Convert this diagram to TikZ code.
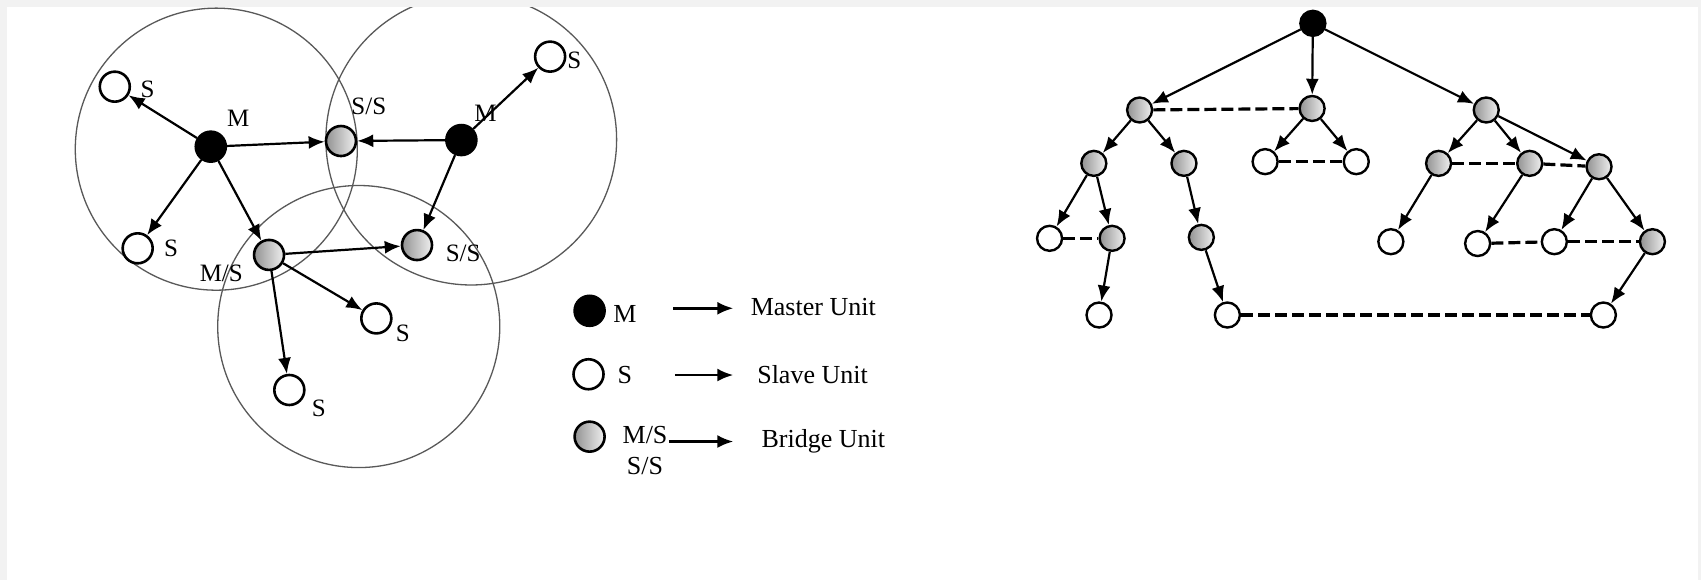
\documentclass[tikz,border=0pt]{standalone}
\usepackage{fontspec}
\setmainfont{Liberation Serif}
\usetikzlibrary{arrows.meta}
\begin{document}
\begin{tikzpicture}[x=0.5424pt,y=-0.5424pt,
  unit/.style={circle,draw=black,line width=1.3pt,minimum size=15pt,inner sep=0pt},
  mnode/.style={unit,fill=black},
  snode/.style={unit,fill=white},
  bnode/.style={unit,left color=gray!85,right color=gray!12},
  tunit/.style={circle,draw=black,line width=1.2pt,minimum size=12.5pt,inner sep=0pt},
  tm/.style={tunit,fill=black},
  ts/.style={tunit,fill=white},
  tb/.style={tunit,left color=gray!85,right color=gray!12},
  link/.style={line width=1.1pt,-{Latex[length=8pt,width=6.5pt]}},
  legarrow/.style={line width=1.3pt,-{Latex[length=8pt,width=6.5pt]}},
  dlink/.style={line width=1.6pt,dash pattern=on 6pt off 2.5pt},
  ring/.style={draw=black!65,line width=0.65pt},
  lbl/.style={font=\fontsize{12.5}{14}\selectfont,inner sep=0pt},
  leg/.style={font=\fontsize{13}{15}\selectfont,inner sep=0pt},
]
\useasboundingbox (0,0) rectangle (1568,535);
\fill[white] (0,0) rectangle (1568,535);

% ---- rings
\draw[ring] (199.4,137.5) circle[radius=130];
\draw[ring] (434.4,128.7) circle[radius=134];
\draw[ring] (330.7,301) circle[radius=130];

% ---- left network nodes
\node[mnode] (m1) at (194.3,135.2) {};
\node[mnode] (m2) at (425.3,129.1) {};
\node[bnode] (ss1) at (314.3,130) {};
\node[bnode] (ss2) at (384.4,225.9) {};
\node[bnode] (ms) at (248,235) {};
\node[snode] (sa) at (105.8,79.9) {};
\node[snode] (sb) at (126.9,228.9) {};
\node[snode] (sc) at (507.1,52.2) {};
\node[snode] (sd) at (346.9,293.5) {};
\node[snode] (se) at (266.7,359.5) {};

% ---- labels
\node[lbl] (lm1) at (219.5,109) {M};
\node[lbl] (lm2) at (447.5,104) {M};
\node[lbl] (lss1) at (340,98) {S/S};
\node[lbl] (lss2) at (427,233.5) {S/S};
\node[lbl] (lms) at (204,252) {M/S};
\node[lbl] (lsa) at (136,82) {S};
\node[lbl] (lsb) at (157.6,228.9) {S};
\node[lbl] (lsc) at (529.3,56) {S};
\node[lbl] (lsd) at (371.4,307.3) {S};
\node[lbl] (lse) at (294,376.4) {S};

% ---- left edges
\draw[link] (m1) -- (sa);
\draw[link] (m1) -- (ss1);
\draw[link] (m1) -- (sb);
\draw[link] (m1) -- (ms);
\draw[link] (m2) -- (ss1);
\draw[link] (m2) -- (sc);
\draw[link] (m2) -- (ss2);
\draw[link] (ms) -- (ss2);
\draw[link] (ms) -- (sd);
\draw[link] (ms) -- (se);

% ---- legend
\node[mnode] (lgm) at (543.5,286.5) {};
\node[snode] (lgs) at (542.5,345) {};
\node[bnode] (lgb) at (543.5,402.5) {};
\node[leg] (tlm) at (576,289) {M};
\node[leg] (tls) at (576,346) {S};
\node[leg] (tlb1) at (594.6,401) {M/S};
\node[leg] (tlb2) at (594.6,430) {S/S};
\coordinate (a1s) at (620.7,284.2);
\coordinate (a1e) at (676,284.2);
\coordinate (a2s) at (622,345.7);
\coordinate (a2e) at (676,345.7);
\coordinate (a3s) at (616.6,407);
\coordinate (a3e) at (676,407);
\draw[legarrow] (a1s) -- (a1e);
\draw[legarrow] (a2s) -- (a2e);
\draw[legarrow] (a3s) -- (a3e);
\node[leg] (master) at (749.7,282.7) {Master Unit};
\node[leg] (slave) at (749,345.7) {Slave Unit};
\node[leg] (bridge) at (759,407) {Bridge Unit};

% ---- tree
\node[tm] (r) at (1210.2,21.5) {};
\node[tb] (A) at (1050.5,101.4) {};
\node[tb] (B) at (1209.5,100) {};
\node[tb] (C) at (1370,101.4) {};
\node[tb] (A1) at (1008.3,150.6) {};
\node[tb] (A2) at (1091.4,150.6) {};
\node[ts] (B1) at (1166.2,149) {};
\node[ts] (B2) at (1250.2,149) {};
\node[tb] (C1) at (1326.1,150.6) {};
\node[tb] (C2) at (1410.1,150.6) {};
\node[tb] (C3) at (1474,153.7) {};
\node[ts] (A1a) at (967.5,219.7) {};
\node[tb] (A1b) at (1025.1,219.7) {};
\node[tb] (A2a) at (1107.4,218.8) {};
\node[ts] (C1a) at (1282.1,222.8) {};
\node[ts] (C2a) at (1362.1,224.5) {};
\node[ts] (C3a) at (1432.8,222.8) {};
\node[tb] (C3b) at (1523.2,222.8) {};
\node[ts] (A1b1) at (1013.1,290.4) {};
\node[ts] (A2a1) at (1131.4,290.4) {};
\node[ts] (C3b1) at (1478,290.4) {};

\draw[link] (r) -- (A);
\draw[link] (r) -- (B);
\draw[link] (r) -- (C);
\draw[link] (A) -- (A1);
\draw[link] (A) -- (A2);
\draw[link] (B) -- (B1);
\draw[link] (B) -- (B2);
\draw[link] (C) -- (C1);
\draw[link] (C) -- (C2);
\draw[link] (C) -- (C3);
\draw[link] (A1) -- (A1a);
\draw[link] (A1) -- (A1b);
\draw[link] (A2) -- (A2a);
\draw[link] (C1) -- (C1a);
\draw[link] (C2) -- (C2a);
\draw[link] (C3) -- (C3a);
\draw[link] (C3) -- (C3b);
\draw[link] (A1b) -- (A1b1);
\draw[link] (A2a) -- (A2a1);
\draw[link] (C3b) -- (C3b1);

\draw[dlink] (A) -- (B);
\draw[dlink] (B1) -- (B2);
\draw[dlink] (C1) -- (C2);
\draw[dlink] (C2) -- (C3);
\draw[dlink] (A1a) -- (A1b);
\draw[dlink] (C2a) -- (C3a);
\draw[dlink] (C3a) -- (C3b);
\draw[dlink] (A2a1) -- (C3b1);

% ---- frame bands
\fill[gray!10] (0,0) rectangle (1568,6.5);
\fill[gray!10] (0,0) rectangle (6.2,535);
\fill[gray!10] (1565.5,0) rectangle (1568,535);
\end{tikzpicture}
\end{document}
